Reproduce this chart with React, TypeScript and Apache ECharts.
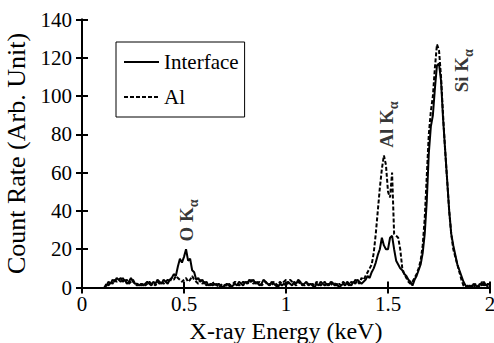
import React, { useEffect, useRef } from "react";
import * as echarts from "echarts";

// Energy channels: 0.11 keV to 2.00 keV in 0.01 keV steps
const energyStart = 0.11;
const energyStep = 0.01;

const interfaceCounts = [
  0, 1, 3, 2, 4, 3, 5, 4, 5, 3,
  4, 2, 3, 5, 3, 2, 2, 1, 2, 1,
  2, 3, 2, 1, 3, 2, 4, 3, 2, 4,
  3, 2, 4, 5, 7, 6, 11, 15, 13, 16,
  20, 14, 15, 9, 8, 4, 5, 3, 4, 2,
  3, 1, 2, 1, 2, 1, 2, 1, 0, 1,
  2, 1, 0, 1, 2, 1, 3, 2, 1, 3,
  2, 4, 3, 4, 2, 3, 1, 2, 4, 3,
  2, 1, 3, 2, 1, 0, 2, 1, 2, 1,
  3, 2, 1, 3, 2, 4, 3, 1, 2, 3,
  1, 2, 1, 0, 2, 1, 3, 2, 1, 2,
  1, 3, 2, 1, 2, 0, 1, 2, 1, 3,
  2, 1, 3, 2, 4, 3, 2, 3, 4, 6,
  5, 8, 10, 13, 17, 20, 26, 22, 20, 20,
  26, 27, 20, 14, 12, 10, 9, 7, 6, 4,
  3, 1, 4, 6, 9, 12, 18, 28, 45, 70,
  84, 90, 104, 116, 117, 108, 88, 72, 56, 40,
  28, 22, 17, 12, 9, 6, 3, 1, 0, 1,
  0, 2, 1, 0, 2, 1, 3, 1, 2, 1,
];

const alCounts = [
  0, 2, 1, 3, 2, 4, 3, 4, 3, 5,
  3, 4, 2, 3, 4, 2, 1, 2, 1, 2,
  1, 2, 3, 2, 2, 1, 3, 2, 3, 2,
  3, 4, 3, 5, 4, 6, 5, 4, 3, 4,
  5, 3, 4, 6, 4, 3, 2, 4, 2, 3,
  1, 2, 1, 3, 1, 2, 0, 1, 2, 1,
  1, 2, 1, 2, 3, 2, 1, 2, 3, 2,
  3, 2, 4, 2, 3, 2, 3, 1, 2, 3,
  1, 2, 1, 3, 2, 1, 3, 2, 3, 4,
  2, 4, 3, 2, 1, 3, 2, 2, 1, 2,
  2, 1, 2, 1, 3, 2, 1, 2, 3, 1,
  2, 1, 3, 2, 1, 2, 1, 3, 2, 2,
  1, 3, 2, 4, 3, 2, 5, 4, 6, 8,
  10, 12, 18, 28, 40, 52, 62, 69, 64, 50,
  47, 60, 28, 27, 26, 20, 10, 7, 5, 3,
  2, 3, 5, 7, 10, 14, 22, 36, 58, 80,
  92, 100, 115, 127, 124, 110, 90, 72, 56, 40,
  28, 20, 16, 12, 8, 4, 1, 0, 1, 0,
  1, 0, 2, 1, 0, 3, 1, 2, 0, 2,
];

const seriesNames = ["Interface", "Al"];

// Peak annotations: [energy, count, element]
const peakLabels: [number, number, string][] = [
  [0.513, 24, "O K"],
  [1.495, 73, "Al K"],
  [1.858, 102, "Si K"],
];

const xTicks = [0, 0.5, 1, 1.5, 2];
const yMin = 0;
const yMax = 140;
const yStep = 20;

const FONT = '"Liberation Serif", "Times New Roman", Times, serif';

export default function App() {
  const ref = useRef<HTMLDivElement>(null);

  useEffect(() => {
    if (!ref.current) return;
    const chart = echarts.init(ref.current, undefined, { renderer: "svg" });

    const toPairs = (vals: number[]) =>
      vals.map((v, i) => [+(energyStart + i * energyStep).toFixed(2), v]);

    const axisLine = { show: true, lineStyle: { color: "#000", width: 2 } };
    const axisTick = { show: true, inside: true, length: 6, lineStyle: { color: "#000", width: 2 } };

    const xBase = {
      type: "value" as const,
      min: xTicks[0],
      max: xTicks[xTicks.length - 1],
      interval: 0.5,
      splitLine: { show: false },
      axisLine,
      axisTick,
    };
    const yBase = {
      type: "value" as const,
      min: yMin,
      max: yMax,
      interval: yStep,
      splitLine: { show: false },
      axisLine,
      axisTick,
    };

    chart.setOption({
      animation: false,
      backgroundColor: "#fff",
      textStyle: { fontFamily: FONT },
      grid: {
        left: 82,
        right: 4,
        top: 19.5,
        bottom: 55.5,
        containLabel: false,
        outerBoundsMode: "none",
      },
      legend: {
        data: seriesNames,
        orient: "vertical",
        left: 116,
        top: 42,
        borderColor: "#000",
        borderWidth: 1,
        padding: [9.5, 6, 9.5, 7],
        itemGap: 14,
        itemWidth: 35,
        itemHeight: 14,
        itemStyle: { opacity: 0 },
        textStyle: { fontFamily: FONT, fontSize: 21, color: "#000" },
      },
      xAxis: [
        {
          ...xBase,
          position: "bottom",
          axisLabel: {
            color: "#000",
            fontFamily: FONT,
            fontSize: 21,
            margin: 6,
            formatter: (v: number) => String(v),
          },
          name: "X-ray Energy (keV)",
          nameLocation: "middle",
          nameGap: 27,
          nameTextStyle: { fontFamily: FONT, fontSize: 24, color: "#000" },
        },
        { ...xBase, position: "top", axisLabel: { show: false } },
      ],
      yAxis: [
        {
          ...yBase,
          position: "left",
          axisLabel: { color: "#000", fontFamily: FONT, fontSize: 21, margin: 10 },
          name: "Count Rate (Arb. Unit)",
          nameLocation: "middle",
          nameGap: 50,
          nameTextStyle: { fontFamily: FONT, fontSize: 26, color: "#000" },
        },
        { ...yBase, position: "right", axisLabel: { show: false } },
      ],
      series: [
        {
          name: seriesNames[0],
          type: "line",
          data: toPairs(interfaceCounts),
          symbol: "none",
          lineStyle: { color: "#000", width: 2, type: "solid" },
          itemStyle: { color: "#000" },
          z: 3,
        },
        {
          name: seriesNames[1],
          type: "line",
          data: toPairs(alCounts),
          symbol: "none",
          lineStyle: { color: "#000", width: 2, type: [4, 2] },
          itemStyle: { color: "#000" },
          z: 2,
        },
        {
          name: "labels",
          type: "scatter",
          symbolSize: 0,
          data: peakLabels.map((p) => ({ value: [p[0], p[1]], name: p[2] })),
          label: {
            show: true,
            position: [0, 0],
            rotate: 90,
            align: "left",
            verticalAlign: "middle",
            formatter: (p: any) => `{b|${p.name}}{s|α}`,
            rich: {
              b: { fontFamily: FONT, fontSize: 19, fontWeight: "bold", color: "#000", lineHeight: 19 },
              s: {
                fontFamily: FONT,
                fontSize: 14,
                fontWeight: "bold",
                color: "#000",
                verticalAlign: "bottom",
                padding: [14, 0, 0, 0],
              },
            },
          },
          z: 5,
        },
      ],
    });

    return () => chart.dispose();
  }, []);

  return (
    <div
      ref={ref}
      style={{ position: "fixed", left: 0, top: 0, width: 494, height: 343 }}
    />
  );
}
